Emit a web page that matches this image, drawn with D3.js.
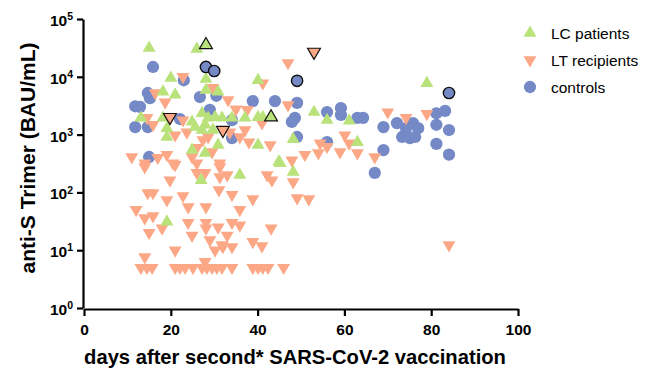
<!DOCTYPE html>
<html>
<head>
<meta charset="utf-8">
<script src="https://cdn.jsdelivr.net/npm/d3@7"></script>
<style>
  body { margin: 0; background: #fff; }
  svg text { font-family: "Liberation Sans", Arial, sans-serif; }
</style>
</head>
<body>
<svg id="chart" width="670" height="372"></svg>
<script>
// series: [day, BAU/mL]
var lcPatients = [
  [15, 31600], [26, 30200], [20, 9550], [28.1, 9120], [18.2, 5500], [21, 4900],
  [28.1, 5890], [30.9, 5500], [13.1, 1950], [18.2, 1950], [19.1, 1290], [19.1, 910],
  [27.2, 2340], [24.9, 1660], [28.6, 1950], [30.2, 2000], [31.8, 1950], [25.6, 1350],
  [27.9, 1480], [27.2, 1200], [29.7, 1200], [30.9, 660], [24.9, 540], [27.9, 480],
  [40.1, 8710], [53, 2450], [34.1, 1950], [37.1, 1950], [40.1, 2000], [41.2, 2000],
  [40.1, 660], [48.2, 830], [44.9, 340], [56, 1780], [61.1, 1740], [63, 740],
  [79, 7760], [27, 162], [19.1, 31], [35.9, 200], [45.2, 320], [48.2, 225]
];
var lcOutlined = [[28.1, 35500], [43.1, 2000]];

var ltRecipients = [
  [22.8, 10000], [16.4, 5250], [18.7, 3630], [29.7, 6460], [14.5, 1950], [15.9, 1480],
  [22.8, 1780], [21, 980], [23.7, 1100], [27.4, 810], [28.6, 910], [26, 590],
  [29.5, 500], [24.9, 410], [11, 410], [17, 400], [19.1, 450], [14, 320],
  [20.5, 320], [26, 320], [31.3, 320], [47, 17400], [41.2, 7760], [47, 3240],
  [33.2, 3980], [35, 2750], [37.6, 2690], [41, 1580], [33.6, 1100], [37.1, 1200],
  [38, 740], [42.9, 660], [35.9, 910], [54.4, 710], [47.9, 360], [50.9, 450],
  [54, 480], [70, 2450], [74.2, 1950], [79, 2300], [56, 620], [60.1, 980],
  [59, 500], [61.1, 710], [63, 480], [67, 410], [51.8, 77], [49.1, 80],
  [84.1, 12.3],
  [21, 300], [14, 275], [26, 218], [27.9, 218], [31.3, 275], [31.3, 185],
  [19.8, 162], [31.1, 110], [14.7, 98], [15.9, 98], [22.8, 87], [19.1, 74],
  [12, 50], [24, 56], [28.1, 56], [14, 36], [15.9, 39], [18, 24], [15, 20],
  [24, 30], [24.9, 18], [28.1, 30], [28.1, 24], [30.9, 25], [29, 15],
  [30.2, 10], [31.8, 12.3], [21, 10], [27.9, 6.3], [14, 7.6],
  [13.1, 5], [14.5, 5], [15.7, 5], [21, 5], [22.1, 5], [23.3, 5], [25.1, 5],
  [27.2, 5], [28.3, 5], [29.5, 5], [30.6, 5], [31.8, 5], [34.1, 5], [38.9, 5],
  [40.1, 5], [41.2, 5], [42.4, 5], [46, 5],
  [33, 200], [42.2, 200], [43.3, 162], [48.2, 151], [34.1, 91], [38.9, 77],
  [35.9, 50], [34.1, 30], [35.9, 27], [43.1, 24], [33, 18], [32, 11.4],
  [34.1, 11.4], [38.9, 14], [41, 11.8]
];
var ltOutlined = [[19.8, 2000], [32, 1200], [53, 26900]];

var controls = [
  [15.9, 14800], [11.8, 3090], [12.9, 3020], [14.7, 5250], [15.2, 4270],
  [11.8, 1350], [14.7, 1350], [15, 410], [23, 8710], [22.1, 1860], [26.7, 4470],
  [29, 2690], [30.5, 4700], [34.1, 870], [34.1, 1780], [38.9, 3800], [44, 3800],
  [49.1, 3550], [48.6, 1950], [47.9, 1660], [49.1, 910], [56, 2450], [59.2, 2880],
  [59.2, 2190], [63, 1950], [64.3, 1950], [56, 740], [69, 1350], [72.1, 1580],
  [69, 540], [67, 218], [74.2, 1290], [75.8, 1580], [77, 1290], [73.3, 910],
  [75.1, 870], [76.3, 910], [81.2, 2340], [83.2, 2570], [81.2, 1480], [84.1, 1200],
  [81.2, 690], [84.1, 450]
];
var ctrlOutlined = [[28.1, 14800], [30, 12600], [49.1, 8510], [84.1, 5250]];

var xTicks = [0, 20, 40, 60, 80, 100];
var yTicks = [1, 10, 100, 1000, 10000, 100000];
var legendNames = ["LC patients", "LT recipients", "controls"];

var colGreen = "#b9e27a", colSalmon = "#fca886", colBlue = "#7489c6";

var svg = d3.select("#chart");

var x = d3.scaleLinear().domain([0, 100]).range([84, 518]);
var y = d3.scaleLog().domain([1, 100000]).range([308, 19]);

var triUp = d3.symbol().type(d3.symbolTriangle).size(72);
var circ = d3.symbol().type(d3.symbolCircle).size(118);
var circO = d3.symbol().type(d3.symbolCircle).size(100);

// points: controls underneath, then LT, then LC
svg.append("g").selectAll("path").data(controls).join("path")
  .attr("d", circ)
  .attr("transform", function(d){ return "translate(" + x(d[0]) + "," + y(d[1]) + ")"; })
  .attr("fill", colBlue);

svg.append("g").selectAll("path").data(ltRecipients).join("path")
  .attr("d", triUp)
  .attr("transform", function(d){ return "translate(" + x(d[0]) + "," + y(d[1]) + ") rotate(180)"; })
  .attr("fill", colSalmon);

svg.append("g").selectAll("path").data(lcPatients).join("path")
  .attr("d", triUp)
  .attr("transform", function(d){ return "translate(" + x(d[0]) + "," + y(d[1]) + ")"; })
  .attr("fill", colGreen);

// highlighted ones with black outline
svg.append("g").selectAll("path").data(ctrlOutlined).join("path")
  .attr("d", circO)
  .attr("transform", function(d){ return "translate(" + x(d[0]) + "," + y(d[1]) + ")"; })
  .attr("fill", colBlue).attr("stroke", "#111").attr("stroke-width", 1.4);

svg.append("g").selectAll("path").data(ltOutlined).join("path")
  .attr("d", triUp)
  .attr("transform", function(d){ return "translate(" + x(d[0]) + "," + y(d[1]) + ") rotate(180)"; })
  .attr("fill", colSalmon).attr("stroke", "#111").attr("stroke-width", 1.2);

svg.append("g").selectAll("path").data(lcOutlined).join("path")
  .attr("d", triUp)
  .attr("transform", function(d){ return "translate(" + x(d[0]) + "," + y(d[1]) + ")"; })
  .attr("fill", colGreen).attr("stroke", "#111").attr("stroke-width", 1.2);

// axes
var xAxis = svg.append("g")
  .attr("transform", "translate(0,309)")
  .call(d3.axisBottom(x).tickValues(xTicks).tickSize(7).tickSizeOuter(0).tickPadding(8));

var yAxis = svg.append("g")
  .attr("transform", "translate(83,0)")
  .call(d3.axisLeft(y).tickValues(yTicks).tickSize(6).tickSizeOuter(0).tickFormat(""));

[xAxis, yAxis].forEach(function(a){
  a.select(".domain").attr("stroke", "#000").attr("stroke-width", 2.2);
  a.selectAll(".tick line").attr("stroke", "#000").attr("stroke-width", 2.2);
});

xAxis.selectAll(".tick text")
  .attr("font-size", 15.5).attr("font-weight", "bold").attr("fill", "#000")
  .attr("font-family", "'Liberation Sans', Arial, sans-serif");

yAxis.selectAll(".tick").each(function(d){
  var t = d3.select(this).append("text")
    .attr("x", -10).attr("dy", "0.42em")
    .attr("text-anchor", "end").attr("fill", "#000")
    .attr("font-weight", "bold").attr("font-size", 15.5);
  t.append("tspan").text("10");
  t.append("tspan").attr("font-size", 10.5).attr("dy", "-0.55em").text(Math.round(Math.log10(d)));
});

// axis titles
svg.append("text")
  .attr("transform", "translate(35,158) rotate(-90)")
  .attr("text-anchor", "middle")
  .attr("font-size", 21).attr("font-weight", "bold")
  .text("anti-S Trimer (BAU/mL)");

svg.append("text")
  .attr("x", 295).attr("y", 364)
  .attr("text-anchor", "middle")
  .attr("font-size", 20.2).attr("font-weight", "bold")
  .text("days after second* SARS-CoV-2 vaccination");

// legend
var leg = svg.append("g").attr("transform", "translate(530,0)");
var legY = [33, 60, 87];
var legSym = [
  { d: triUp, rot: "", fill: colGreen },
  { d: triUp, rot: " rotate(180)", fill: colSalmon },
  { d: circ, rot: "", fill: colBlue }
];
legendNames.forEach(function(name, i){
  leg.append("path")
    .attr("d", legSym[i].d)
    .attr("transform", "translate(0," + legY[i] + ")" + legSym[i].rot)
    .attr("fill", legSym[i].fill);
  leg.append("text")
    .attr("x", 21).attr("y", legY[i]).attr("dy", "0.36em")
    .attr("font-size", 15.5).attr("fill", "#000")
    .text(name);
});
</script>
</body>
</html>
